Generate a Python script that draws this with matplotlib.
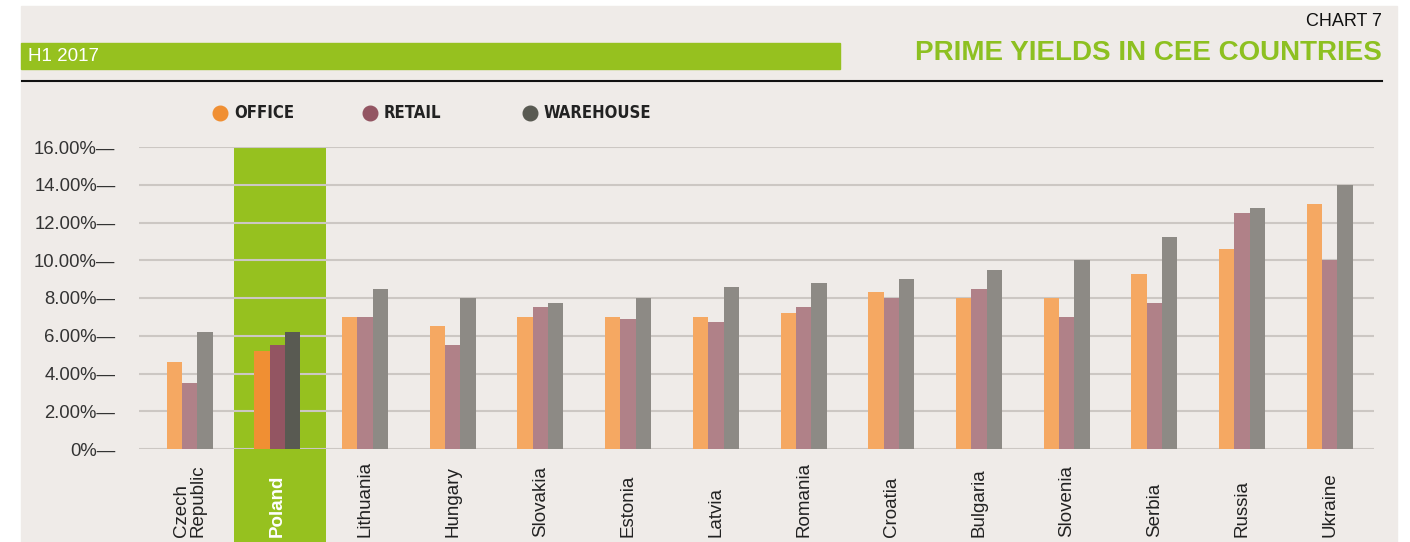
import matplotlib.pyplot as plt
import numpy as np
from matplotlib.patches import Rectangle
from matplotlib.lines import Line2D

plt.rcParams['font.family'] = ['Liberation Sans', 'DejaVu Sans']

# data (prime yields, %)
countries = ['Czech\nRepublic', 'Poland', 'Lithuania', 'Hungary', 'Slovakia', 'Estonia', 'Latvia',
             'Romania', 'Croatia', 'Bulgaria', 'Slovenia', 'Serbia', 'Russia', 'Ukraine']
office = [4.6, 5.2, 7.0, 6.5, 7.0, 7.0, 7.0, 7.2, 8.3, 8.0, 8.0, 9.25, 10.6, 13.0]
retail = [3.5, 5.5, 7.0, 5.5, 7.5, 6.9, 6.75, 7.5, 8.0, 8.5, 7.0, 7.75, 12.5, 10.0]
warehouse = [6.2, 6.2, 8.5, 8.0, 7.75, 8.0, 8.6, 8.8, 9.0, 9.5, 10.0, 11.25, 12.75, 14.0]
yticks = [0, 2, 4, 6, 8, 10, 12, 14, 16]
highlight = 'Poland'

bg = '#efebe8'
green = '#96c11f'
light_cols = ['#f5a862', '#b08188', '#8d8a85']
dark_cols = ['#f08f33', '#935562', '#595a52']

W, H = 1410, 542
fig = plt.figure(figsize=(W / 100, H / 100), dpi=100, facecolor='white')

# beige page background
fig.add_artist(Rectangle((21 / W, 0), (1397 - 21) / W, (H - 6) / H,
                         transform=fig.transFigure, color=bg, zorder=-10))

ax = fig.add_axes([139 / W, (H - 449) / H, (1374 - 139) / W, (449 - 147) / H])
ax.set_facecolor('none')
ax.set_xlim(-0.578, 13.505)
ax.set_ylim(0, 16)

x = np.arange(len(countries))
hi = countries.index(highlight)
w = 0.175

# green highlight band behind Poland
ax.axvspan(0.505, 1.555, ymin=-0.308, ymax=1, color=green, clip_on=False, zorder=0, lw=0)

for i, (vals, lc, dc) in enumerate(zip([office, retail, warehouse], light_cols, dark_cols)):
    cols = [dc if j == hi else lc for j in range(len(countries))]
    ax.bar(x + (i - 1) * w, vals, width=w, color=cols, zorder=3, lw=0)

ax.set_yticks(yticks)
ax.set_yticklabels([('0%' if t == 0 else f'{t:.2f}%') + '\u2014' for t in yticks],
                   fontsize=13.3, color='#333333')
ax.yaxis.grid(True, color='#ccc7c3', lw=1.5, zorder=1)
for gl in ax.get_ygridlines():
    gl.set_zorder(1)
ax.tick_params(axis='y', length=0, pad=17)

# country names, rotated and aligned at their start (bottom)
ax.set_xticks([])
lab_y = -(537 - 449) / (449 - 147)
for xi, name in zip(x, countries):
    is_hi = name == highlight
    ax.text(xi, lab_y, name, transform=ax.get_xaxis_transform(), rotation=90,
            ha='center', va='bottom', multialignment='left', fontsize=13.5, linespacing=0.95,
            color='white' if is_hi else '#222222', fontweight='bold' if is_hi else 'normal')

for s in ax.spines.values():
    s.set_visible(False)

# legend
leg_names = ['OFFICE', 'RETAIL', 'WAREHOUSE']
leg_x = [220, 370, 530]
for name, lx, c in zip(leg_names, leg_x, dark_cols):
    fig.add_artist(Line2D([lx / W], [1 - 113 / H], marker='o', markersize=10.5, color=c, lw=0,
                          transform=fig.transFigure))
    fig.text((lx + 14) / W, 1 - 113 / H, name, fontsize=12, fontweight='bold',
             family='DejaVu Sans', fontstretch='condensed', va='center', color='#222222')

# header
fig.add_artist(Rectangle((21 / W, 1 - 69 / H), (840 - 21) / W, 26 / H,
                         transform=fig.transFigure, color=green))
fig.text(28 / W, 1 - 56.5 / H, 'H1 2017', color='white', fontsize=13.5, va='center')
fig.text(1382 / W, 1 - 22 / H, 'CHART 7', color='#111111', fontsize=13, va='center', ha='right')
fig.text(1382 / W, 1 - 53 / H, 'PRIME YIELDS IN CEE COUNTRIES', color='#8dc021',
         fontsize=20, fontweight='bold', va='center', ha='right')
fig.add_artist(Line2D([22 / W, 1382 / W], [1 - 81 / H, 1 - 81 / H], color='#111111', lw=1.5,
                      transform=fig.transFigure))

fig.savefig('out.png', dpi=100, facecolor='white')
